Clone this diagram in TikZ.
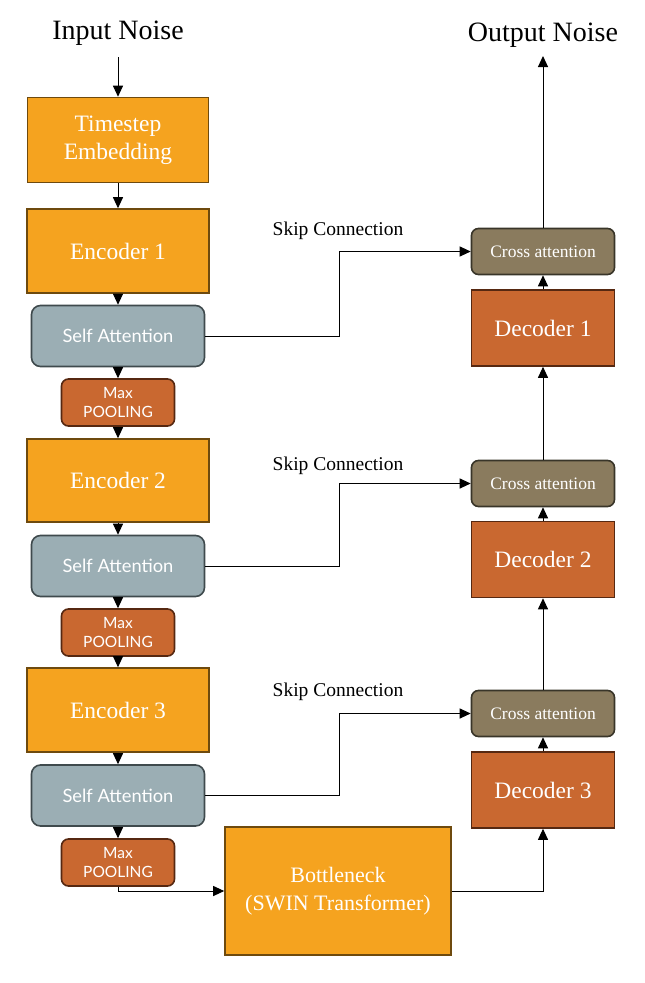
\documentclass[tikz,border=0pt]{standalone}
\usepackage{fontspec}
\setmainfont{Liberation Serif}
\newfontfamily\attnfont{Lato}
\usetikzlibrary{arrows.meta}
\definecolor{enccolor}{HTML}{F5A31F}
\definecolor{encborder}{HTML}{6E4A0E}
\definecolor{deccolor}{HTML}{C96830}
\definecolor{decborder}{HTML}{562811}
\definecolor{sacolor}{HTML}{9BAEB4}
\definecolor{saborder}{HTML}{3F4A4D}
\definecolor{cacolor}{HTML}{8A7B5E}
\definecolor{caborder}{HTML}{393529}
\tikzset{
  encbox/.style = {fill = enccolor, draw = encborder, line width = 1.6pt, rectangle, inner sep = 0pt, text = white, font = \fontsize{23.5}{28}\selectfont, align = center},
  decbox/.style = {fill = deccolor, draw = decborder, line width = 1.6pt, rectangle, inner sep = 0pt, text = white, font = \fontsize{23.5}{28}\selectfont, align = center, minimum width = 143pt, minimum height = 76pt},
  sabox/.style = {fill = sacolor, draw = saborder, line width = 1.6pt, rounded corners = 9pt, inner sep = 0pt, text = white, font = \attnfont\fontsize{18.3}{21}\selectfont, minimum width = 173pt, minimum height = 61pt},
  poolbox/.style = {fill = deccolor, draw = decborder, line width = 1.6pt, rounded corners = 7pt, inner sep = 0pt, text = white, font = \attnfont\fontsize{15.5}{19}\selectfont, align = center, minimum width = 113pt, minimum height = 47pt},
  cabox/.style = {fill = cacolor, draw = caborder, line width = 1.6pt, rounded corners = 7pt, inner sep = 0pt, text = white, font = \fontsize{17.5}{20}\selectfont, minimum width = 143pt, minimum height = 46pt},
  skiplabel/.style = {font = \fontsize{19.5}{22}\selectfont},
  arrow/.style = {-{Triangle[length = 11pt, width = 10pt]}, line width = 1pt}
}

\begin{document}
\begin{tikzpicture}[x = 1pt, y = -1pt]

        \useasboundingbox (0, 0) rectangle (645, 983);

        \node [font = \fontsize{28}{32}\selectfont] (in) at (118, 33) {Input Noise};
        \node [font = \fontsize{28}{32}\selectfont] (out) at (543, 35) {Output Noise};
        \coordinate (intail) at (118, 57);
        \coordinate (outtip) at (543, 56);

        % Encoder side
        \node [encbox, minimum width = 181pt, minimum height = 85pt] (ts) at (118, 140) {Timestep\\Embedding};
        \node [encbox, minimum width = 182pt, minimum height = 84pt] (enc1) at (118, 251) {Encoder 1};
        \node [sabox] (sa1) at (118, 336) {Self Attention};
        \node [poolbox] (mp1) at (118, 402.5) {Max\\POOLING};
        \node [encbox, minimum width = 182pt, minimum height = 83pt] (enc2) at (118, 480.5) {Encoder 2};
        \node [sabox] (sa2) at (118, 566) {Self Attention};
        \node [poolbox] (mp2) at (118, 632.5) {Max\\POOLING};
        \node [encbox, minimum width = 182pt, minimum height = 84pt] (enc3) at (118, 710) {Encoder 3};
        \node [sabox] (sa3) at (118, 795.5) {Self Attention};
        \node [poolbox] (mp3) at (118, 862.5) {Max\\POOLING};

        % Bottleneck
        \node [encbox, minimum width = 226pt, minimum height = 128pt, font = \fontsize{22}{28}\selectfont] (bn) at (338, 891) {Bottleneck\\(SWIN Transformer)};

        % Decoder side
        \node [decbox] (dec3) at (543, 790) {Decoder 3};
        \node [cabox] (ca3) at (543, 713.5) {Cross attention};
        \node [decbox] (dec2) at (543, 559.5) {Decoder 2};
        \node [cabox] (ca2) at (543, 483.5) {Cross attention};
        \node [decbox] (dec1) at (543, 328) {Decoder 1};
        \node [cabox] (ca1) at (543, 251.5) {Cross attention};

        % Down path
        \draw [arrow] (intail) -- (ts.north);
        \draw [arrow] (ts.south) -- (enc1.north);
        \draw [arrow] (enc1.south) -- (sa1.north);
        \draw [arrow] (sa1.south) -- (mp1.north);
        \draw [arrow] (mp1.south) -- (enc2.north);
        \draw [arrow] (enc2.south) -- (sa2.north);
        \draw [arrow] (sa2.south) -- (mp2.north);
        \draw [arrow] (mp2.south) -- (enc3.north);
        \draw [arrow] (enc3.south) -- (sa3.north);
        \draw [arrow] (sa3.south) -- (mp3.north);
        \draw [arrow] (mp3.south) |- (bn.west);

        % Up path
        \draw [arrow] (bn.east) -| (dec3.south);
        \draw [arrow] (dec3.north) -- (ca3.south);
        \draw [arrow] (ca3.north) -- (dec2.south);
        \draw [arrow] (dec2.north) -- (ca2.south);
        \draw [arrow] (ca2.north) -- (dec1.south);
        \draw [arrow] (dec1.north) -- (ca1.south);
        \draw [arrow] (ca1.north) -- (outtip);

        % Skip connections
        \draw [arrow] (sa1.east) -- ++(134, 0) |- (ca1.west);
        \draw [arrow] (sa2.east) -- ++(134, 0) |- (ca2.west);
        \draw [arrow] (sa3.east) -- ++(134, 0) |- (ca3.west);
        \node [skiplabel] (skip1) at (338, 231) {Skip Connection};
        \node [skiplabel] (skip2) at (338, 466) {Skip Connection};
        \node [skiplabel] (skip3) at (338, 692) {Skip Connection};

    \end{tikzpicture}
\end{document}
